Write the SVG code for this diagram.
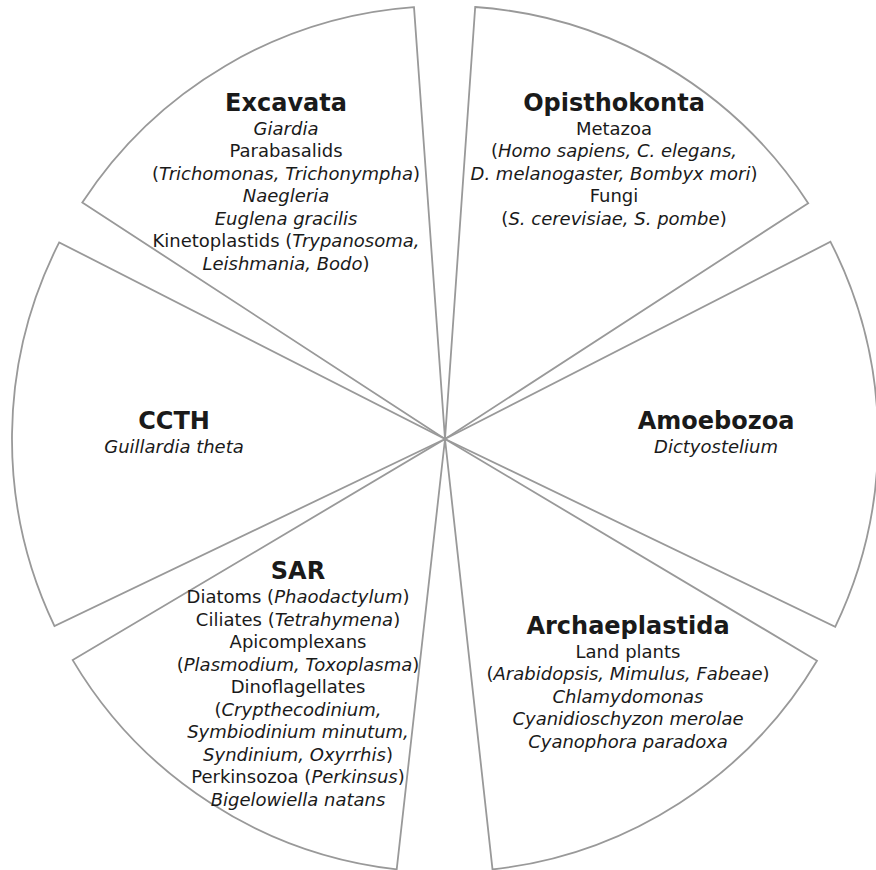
<svg xmlns="http://www.w3.org/2000/svg" width="876" height="870" viewBox="0 0 876 870">
<style>
.w{fill:#fff;stroke:#999;stroke-width:1.8;stroke-linejoin:miter}
text{font-family:"DejaVu Sans","Verdana",sans-serif;fill:#1a1a1a;text-anchor:middle}
.t{font-size:24px;font-weight:bold}
.b{font-size:18px}
.i{font-style:italic}
</style>
<rect width="876" height="870" fill="#fff"/>
<g id="wedges">
<path id="w-excavata" class="w" d="M445,439 L82.3,202.5 A433,433 0 0 1 414,7.1 Z"/>
<path id="w-opisthokonta" class="w" d="M445,439 L475.2,7 A433,433 0 0 1 808.2,203.2 Z"/>
<path id="w-amoebozoa" class="w" d="M445,439 L830.5,241.8 A433,433 0 0 1 835.2,626.8 Z"/>
<path id="w-archaeplastida" class="w" d="M445,439 L817,660.7 A433,433 0 0 1 492.5,869.4 Z"/>
<path id="w-sar" class="w" d="M445,439 L396.7,869.3 A433,433 0 0 1 72.7,660.1 Z"/>
<path id="w-ccth" class="w" d="M445,439 L54.5,626.1 A433,433 0 0 1 59.2,242.4 Z"/>
</g>
<g id="excavata">
<text class="t" x="286" y="111">Excavata</text>
<text class="b" x="286" y="134.5"><tspan class="i">Giardia</tspan></text>
<text class="b" x="286" y="157">Parabasalids</text>
<text class="b" x="286" y="179.5">(<tspan class="i">Trichomonas, Trichonympha</tspan>)</text>
<text class="b" x="286" y="202"><tspan class="i">Naegleria</tspan></text>
<text class="b" x="286" y="224.5"><tspan class="i">Euglena gracilis</tspan></text>
<text class="b" x="286" y="247">Kinetoplastids (<tspan class="i">Trypanosoma,</tspan></text>
<text class="b" x="286" y="269.5"><tspan class="i">Leishmania, Bodo</tspan>)</text>
</g>
<g id="opisthokonta">
<text class="t" x="614" y="111">Opisthokonta</text>
<text class="b" x="614" y="134.5">Metazoa</text>
<text class="b" x="614" y="157">(<tspan class="i">Homo sapiens, C. elegans,</tspan></text>
<text class="b" x="614" y="179.5"><tspan class="i">D. melanogaster, Bombyx mori</tspan>)</text>
<text class="b" x="614" y="202">Fungi</text>
<text class="b" x="614" y="224.5">(<tspan class="i">S. cerevisiae, S. pombe</tspan>)</text>
</g>
<g id="ccth">
<text class="t" x="174" y="428.5">CCTH</text>
<text class="b" x="174" y="452.5"><tspan class="i">Guillardia theta</tspan></text>
</g>
<g id="amoebozoa">
<text class="t" x="716" y="428.5">Amoebozoa</text>
<text class="b" x="716" y="452.5"><tspan class="i">Dictyostelium</tspan></text>
</g>
<g id="sar">
<text class="t" x="298" y="579">SAR</text>
<text class="b" x="298" y="603">Diatoms (<tspan class="i">Phaodactylum</tspan>)</text>
<text class="b" x="298" y="625.5">Ciliates (<tspan class="i">Tetrahymena</tspan>)</text>
<text class="b" x="298" y="648">Apicomplexans</text>
<text class="b" x="298" y="670.5">(<tspan class="i">Plasmodium, Toxoplasma</tspan>)</text>
<text class="b" x="298" y="693">Dinoflagellates</text>
<text class="b" x="298" y="715.5">(<tspan class="i">Crypthecodinium,</tspan></text>
<text class="b" x="298" y="738"><tspan class="i">Symbiodinium minutum,</tspan></text>
<text class="b" x="298" y="760.5"><tspan class="i">Syndinium, Oxyrrhis</tspan>)</text>
<text class="b" x="298" y="783">Perkinsozoa (<tspan class="i">Perkinsus</tspan>)</text>
<text class="b" x="298" y="805.5"><tspan class="i">Bigelowiella natans</tspan></text>
</g>
<g id="archaeplastida">
<text class="t" x="628" y="633.5">Archaeplastida</text>
<text class="b" x="628" y="657.5">Land plants</text>
<text class="b" x="628" y="680">(<tspan class="i">Arabidopsis, Mimulus, Fabeae</tspan>)</text>
<text class="b" x="628" y="702.5"><tspan class="i">Chlamydomonas</tspan></text>
<text class="b" x="628" y="725"><tspan class="i">Cyanidioschyzon merolae</tspan></text>
<text class="b" x="628" y="747.5"><tspan class="i">Cyanophora paradoxa</tspan></text>
</g>
</svg>
